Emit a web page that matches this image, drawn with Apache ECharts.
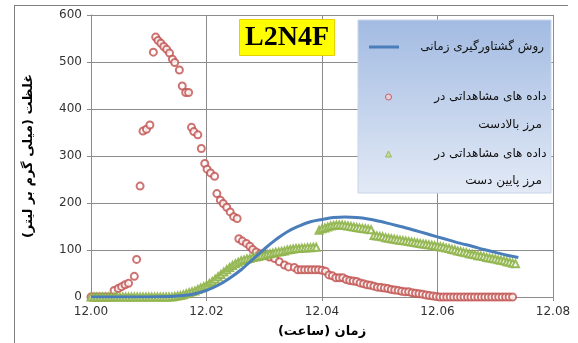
<!DOCTYPE html>
<html>
<head>
<meta charset="utf-8">
<script src="https://cdn.jsdelivr.net/npm/echarts@6/dist/echarts.min.js"></script>
<style>html,body{margin:0;padding:0;background:#fff}#c{width:578px;height:343px}</style>
</head>
<body>
<div id="c"></div>
<script>
const RLM = '\u200F';
const titleText = 'L2N4F';
const xTicks = [12.00, 12.02, 12.04, 12.06, 12.08];
const yTicks = [0, 100, 200, 300, 400, 500, 600];
const seriesNames = ['روش گشتاورگیری زمانی', 'داده های مشاهداتی در', 'داده های مشاهداتی در '];
const legendSecondLines = ['مرز بالادست', 'مرز پایین دست'];
const xAxisName = 'زمان (ساعت)';
const yAxisName = 'غلظت (میلی گرم بر لیتر)';

// model (blue line)
const modelTime = [12.000, 12.010, 12.014, 12.016, 12.018, 12.020, 12.022, 12.024, 12.026, 12.028, 12.030, 12.032, 12.034, 12.036, 12.038, 12.040, 12.042, 12.044, 12.046, 12.048, 12.050, 12.052, 12.054, 12.056, 12.058, 12.060, 12.062, 12.064, 12.066, 12.068, 12.070, 12.072, 12.074];
const modelValue = [0, 0, 1, 3, 7, 14, 25, 40, 58, 80, 102, 122, 139, 151, 160, 165, 169, 170, 169, 166, 161, 155, 149, 142, 135, 128, 121, 114, 108, 101, 95, 89, 84];

// upstream observations (red circles)
const upTime = [12.0000, 12.0005, 12.0010, 12.0015, 12.0020, 12.0025, 12.0030, 12.0035,
  12.0040, 12.0047, 12.0053, 12.0059, 12.0065, 12.0075, 12.0079, 12.0085, 12.0090, 12.0096, 12.0102,
  12.0108, 12.0112, 12.0116, 12.0121, 12.0126, 12.0131, 12.0136, 12.0141, 12.0145, 12.0153, 12.0158,
  12.0164, 12.0169, 12.0174, 12.0178, 12.0185, 12.0191, 12.0197, 12.0201, 12.0207, 12.0214, 12.0218,
  12.0224, 12.0229, 12.0235, 12.0241, 12.0247, 12.0253, 12.0256, 12.0262, 12.0269, 12.0275, 12.0280,
  12.0286, 12.0293, 12.0300, 12.0309, 12.0318, 12.0326, 12.0335, 12.0342, 12.0352, 12.0358, 12.0364,
  12.0370, 12.0376, 12.0382, 12.0388, 12.0394, 12.0400, 12.0406, 12.0412, 12.0418, 12.0424, 12.0430,
  12.0436, 12.0442, 12.0448, 12.0454, 12.0460, 12.0466, 12.0472, 12.0478, 12.0484, 12.0490, 12.0496,
  12.0502, 12.0508, 12.0514, 12.0520, 12.0526, 12.0532, 12.0538, 12.0544, 12.0550, 12.0556, 12.0562,
  12.0568, 12.0574, 12.0580, 12.0586, 12.0592, 12.0598, 12.0604, 12.0610, 12.0616, 12.0622, 12.0628,
  12.0634, 12.0640, 12.0646, 12.0652, 12.0658, 12.0664, 12.0670, 12.0676, 12.0682, 12.0688, 12.0694,
  12.0700, 12.0706, 12.0712, 12.0718, 12.0724, 12.0730];
const upValue = [0, 0, 0, 0, 0, 0, 0, 0,
  14, 18, 22, 26, 29, 44, 80, 236, 353, 357, 366,
  521, 553, 546, 540, 533, 527, 519, 506, 499, 483, 449,
  435, 435, 361, 352, 345, 316, 284, 272, 264, 257, 220,
  206, 199, 191, 181, 171, 167, 124, 119, 114, 108, 101,
  96, 92, 89, 85, 82, 75, 68, 64, 63, 58, 58,
  58, 58, 58, 58, 58, 57, 55, 47, 45, 41, 41,
  41, 37, 35, 34, 33, 30, 28, 26, 25, 23, 21,
  20, 19, 18, 16, 15, 14, 12, 11, 11, 9, 8,
  7, 6, 4, 3, 2, 1, 0, 0, 0, 0, 0,
  0, 0, 0, 0, 0, 0, 0, 0, 0, 0, 0,
  0, 0, 0, 0, 0, 0];

// downstream observations (green triangles)
const downTime = [12.0000, 12.0005, 12.0010, 12.0015, 12.0020, 12.0025, 12.0030, 12.0035, 12.0040, 12.0045,
  12.0050, 12.0055, 12.0060, 12.0065, 12.0070, 12.0075, 12.0080, 12.0085, 12.0090, 12.0095,
  12.0100, 12.0105, 12.0110, 12.0115, 12.0120, 12.0125, 12.0130, 12.0135, 12.0140, 12.0145,
  12.0150, 12.0155, 12.0160, 12.0165, 12.0170, 12.0175, 12.0180, 12.0185, 12.0190, 12.0195,
  12.0200, 12.0205, 12.0210, 12.0215, 12.0220, 12.0225, 12.0230, 12.0235, 12.0240, 12.0245,
  12.0250, 12.0255, 12.0260, 12.0265, 12.0270, 12.0275, 12.0280, 12.0285, 12.0290, 12.0295,
  12.0300, 12.0305, 12.0310, 12.0315, 12.0320, 12.0325, 12.0330, 12.0335, 12.0340, 12.0345,
  12.0350, 12.0355, 12.0360, 12.0365, 12.0370, 12.0375, 12.0380, 12.0385, 12.0390, 12.0395,
  12.0400, 12.0405, 12.0410, 12.0415, 12.0420, 12.0425, 12.0430, 12.0435, 12.0440, 12.0445,
  12.0450, 12.0455, 12.0460, 12.0465, 12.0470, 12.0475, 12.0480, 12.0485, 12.0490, 12.0495,
  12.0500, 12.0505, 12.0510, 12.0515, 12.0520, 12.0525, 12.0530, 12.0535, 12.0540, 12.0545,
  12.0550, 12.0555, 12.0560, 12.0565, 12.0570, 12.0575, 12.0580, 12.0585, 12.0590, 12.0595,
  12.0600, 12.0605, 12.0610, 12.0615, 12.0620, 12.0625, 12.0630, 12.0635, 12.0640, 12.0645,
  12.0650, 12.0655, 12.0660, 12.0665, 12.0670, 12.0675, 12.0680, 12.0685, 12.0690, 12.0695,
  12.0700, 12.0705, 12.0710, 12.0715, 12.0720, 12.0725, 12.0730, 12.0735];
const downValue = [0, 0, 0, 0, 0, 0, 0, 0, 0, 0,
  0, 0, 0, 0, 0, 0, 0, 0, 0, 0,
  0, 0, 0, 0, 0, 0, 0, 0, 0, 1,
  2, 3, 5, 7, 9, 11, 13, 16, 19, 22,
  25, 29, 33, 38, 43, 48, 53, 58, 63, 67,
  71, 74, 77, 79, 81, 82, 84, 85, 86, 88,
  89, 91, 92, 93, 95, 96, 97, 98, 100, 101,
  102, 103, 103, 104, 104, 105, 105, 106, 106, 142,
  145, 147, 149, 151, 152, 153, 153, 153, 152, 151,
  150, 149, 148, 147, 146, 145, 144, 143, 131, 130,
  129, 128, 126, 125, 124, 123, 122, 121, 120, 119,
  118, 117, 116, 115, 114, 113, 112, 111, 110, 109,
  108, 107, 106, 104, 103, 101, 100, 98, 97, 95,
  94, 92, 91, 90, 88, 87, 86, 84, 83, 82,
  81, 79, 78, 77, 75, 74, 72, 71];

const pair = (ts, vs) => ts.map((t, i) => [t, vs[i]]);
const fa = s => RLM + s + RLM;

const chart = echarts.init(document.getElementById('c'), null, {renderer: 'canvas'});
const gridColor = '#8c8c8c';
const persianFont = 'DejaVu Sans';
const richWide = {t: {width: 140, align: 'right', fontFamily: persianFont, fontSize: 12, color: '#111'}};
const richSym = {t: {width: 150, align: 'right', fontFamily: persianFont, fontSize: 12, color: '#111'}};

chart.setOption({
  animation: false,
  backgroundColor: '#fff',
  title: {
    text: titleText, left: 239, top: 19,
    backgroundColor: '#ffff00', borderColor: '#e6d200', borderWidth: 1,
    padding: [4, 6, 3, 6],
    textStyle: {fontFamily: 'Liberation Serif', fontWeight: 'bold', fontSize: 28, color: '#000', lineHeight: 30}
  },
  grid: {left: 91, right: 25, top: 15, bottom: 46, containLabel: false},
  xAxis: {
    type: 'value', min: xTicks[0], max: xTicks[xTicks.length - 1], interval: 0.02,
    name: fa(xAxisName), nameLocation: 'middle', nameGap: 28,
    nameTextStyle: {fontFamily: persianFont, fontWeight: 'bold', fontSize: 13, color: '#000'},
    axisLine: {show: true, lineStyle: {color: gridColor}},
    axisTick: {show: true, inside: false, length: 4, lineStyle: {color: gridColor}},
    axisLabel: {formatter: v => v.toFixed(2), fontFamily: 'DejaVu Sans', fontSize: 12, color: '#333', margin: 9},
    splitLine: {show: true, lineStyle: {color: gridColor, width: 1}}
  },
  yAxis: {
    type: 'value', min: yTicks[0], max: yTicks[yTicks.length - 1], interval: 100,
    name: fa(yAxisName), nameLocation: 'middle', nameGap: 56, nameRotate: 90,
    nameTextStyle: {fontFamily: persianFont, fontWeight: 'bold', fontSize: 13, color: '#000'},
    axisLine: {show: true, lineStyle: {color: gridColor}},
    axisTick: {show: true, inside: false, length: 4, lineStyle: {color: gridColor}},
    axisLabel: {fontFamily: 'DejaVu Sans', fontSize: 12, color: '#333', margin: 9},
    splitLine: {show: true, lineStyle: {color: gridColor, width: 1}}
  },
  legend: [
    {data: [{name: seriesNames[0], icon: 'path://M0,4L30,4L30,7L0,7Z'}], left: 364, top: 36, itemWidth: 30, itemHeight: 10, itemGap: 5,
     formatter: n => '{t|' + fa(n) + '}', textStyle: {rich: richWide}, selectedMode: false, z: 6},
    {data: [{name: seriesNames[1], icon: 'circle'}], left: 380, top: 86, itemWidth: 6, itemHeight: 6, itemGap: 6,
     itemStyle: {color: '#e8cfd6', borderColor: '#c0606a', borderWidth: 1, opacity: 1},
     formatter: n => '{t|' + fa(n.trim()) + '}', textStyle: {rich: richSym}, selectedMode: false, z: 6},
    {data: [{name: seriesNames[2], icon: 'triangle'}], left: 380, top: 143, itemWidth: 6, itemHeight: 6, itemGap: 6,
     itemStyle: {color: '#c5daa0', borderColor: '#9bbb59', borderWidth: 1, opacity: 1},
     formatter: n => '{t|' + fa(n.trim()) + '}', textStyle: {rich: richSym}, selectedMode: false, z: 6}
  ],
  graphic: [
    {type: 'line', shape: {x1: 14, y1: 5.5, x2: 568, y2: 5.5}, style: {stroke: '#7f7f7f', lineWidth: 1}, z: 0},
    {type: 'line', shape: {x1: 14.5, y1: 5, x2: 14.5, y2: 343}, style: {stroke: '#7f7f7f', lineWidth: 1}, z: 0},
    {type: 'rect', shape: {x: 358, y: 20, width: 193, height: 173}, z: 3,
     style: {fill: new echarts.graphic.LinearGradient(0, 0, 0, 1, [{offset: 0, color: '#a2bbe2'}, {offset: 1, color: '#e3eaf6'}]), stroke: '#c9d5ea', lineWidth: 1}},
    {type: 'text', right: 36, top: 119, z: 5, style: {text: fa(legendSecondLines[0]), font: '12px "DejaVu Sans"', fill: '#111', textAlign: 'right'}},
    {type: 'text', right: 36, top: 175, z: 5, style: {text: fa(legendSecondLines[1]), font: '12px "DejaVu Sans"', fill: '#111', textAlign: 'right'}}
  ],
  series: [
    {name: seriesNames[0], type: 'line', data: pair(modelTime, modelValue), smooth: 0.4, symbol: 'none',
     lineStyle: {color: '#4a7ebb', width: 3}, itemStyle: {color: '#4a7ebb'}, z: 4},
    {name: seriesNames[1], type: 'scatter', data: pair(upTime, upValue), symbol: 'emptyCircle', symbolSize: 7,
     itemStyle: {color: '#c0504d', borderColor: '#c0504d', borderWidth: 1, opacity: 0.8}, z: 2},
    {name: seriesNames[2], type: 'scatter', data: pair(downTime, downValue), symbol: 'emptyTriangle', symbolSize: 7,
     itemStyle: {color: '#8fb44a', borderColor: '#8fb44a', borderWidth: 1, opacity: 0.9}, z: 3}
  ]
});
</script>
</body>
</html>
